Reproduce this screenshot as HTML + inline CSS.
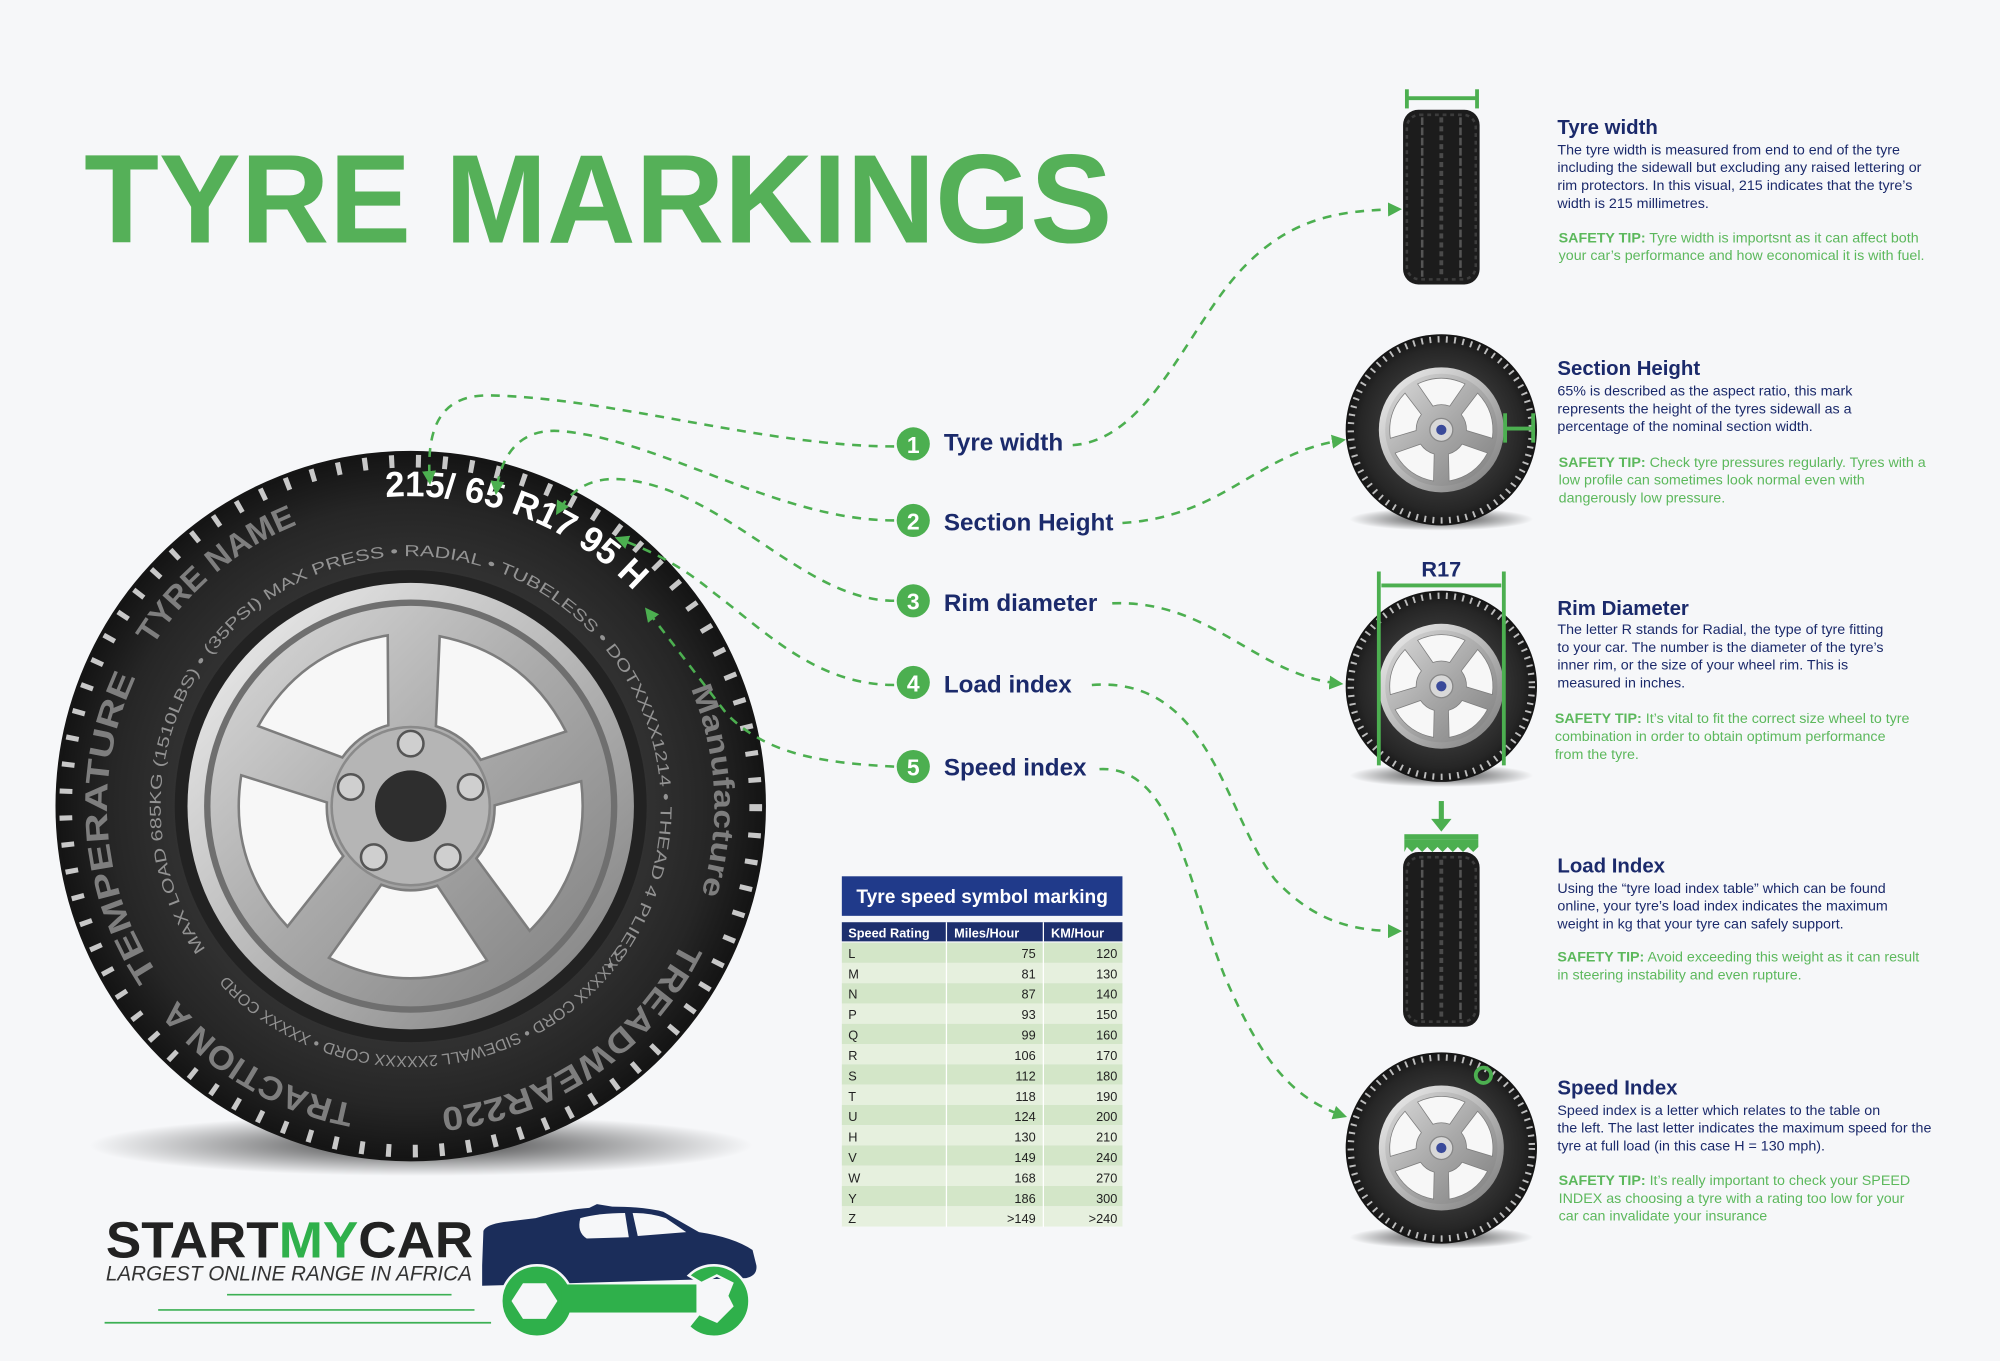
<!DOCTYPE html>
<html><head><meta charset="utf-8"><style>
html,body{margin:0;padding:0;background:#f6f7f9;}
svg{display:block}
text{font-family:"Liberation Sans",sans-serif}
</style></head><body>
<svg width="2000" height="1361" viewBox="0 0 1568 1067" preserveAspectRatio="none" xmlns="http://www.w3.org/2000/svg">
<defs>
<marker id="ar" viewBox="0 0 10 10" refX="8" refY="5" markerWidth="5.5" markerHeight="5.5" orient="auto"><path d="M0,0 L10,5 L0,10 z" fill="#4caf50"/></marker>
<radialGradient id="tyreG" cx="50%" cy="50%" r="50%"><stop offset="0.6" stop-color="#353535"/><stop offset="0.85" stop-color="#262626"/><stop offset="1" stop-color="#141414"/></radialGradient>
<linearGradient id="rimG" x1="0" y1="0" x2="1" y2="1"><stop offset="0" stop-color="#f2f2f2"/><stop offset="0.5" stop-color="#b8b8b8"/><stop offset="1" stop-color="#7a7a7a"/></linearGradient>
<linearGradient id="faceG" x1="0" y1="0" x2="1" y2="1"><stop offset="0" stop-color="#dcdcdc"/><stop offset="0.5" stop-color="#a9a9a9"/><stop offset="1" stop-color="#7f7f7f"/></linearGradient>
<radialGradient id="shadowG" cx="50%" cy="50%" r="50%"><stop offset="0" stop-color="#000" stop-opacity="0.75"/><stop offset="1" stop-color="#000" stop-opacity="0"/></radialGradient>
<path id="c243" d="M565,632 A243,243 0 1 1 79,632 A243,243 0 1 1 565,632 A243,243 0 1 1 79,632 A243,243 0 1 1 565,632"/>
<path id="c238" d="M560,632 A238,238 0 1 1 84,632 A238,238 0 1 1 560,632 A238,238 0 1 1 84,632 A238,238 0 1 1 560,632"/>
<path id="c196" d="M518,632 A196,196 0 1 1 126,632 A196,196 0 1 1 518,632 A196,196 0 1 1 126,632 A196,196 0 1 1 518,632"/>
<g id="opening"><path d="M-22,-62 Q0,-70 22,-62 L62,-120 Q0,-150 -62,-120 Z" fill="#f7f7f7" stroke="#7d7d7d" stroke-width="2"/></g>
<g id="wheel">
  <ellipse cx="0" cy="70" rx="72" ry="9" fill="url(#shadowG)"/>
  <circle r="75" fill="url(#tyreG)"/>
  <circle r="71" fill="none" stroke="#bdbdbd" stroke-width="5" stroke-dasharray="1.5 5"/>
  <circle r="49" fill="url(#rimG)"/>
  <circle r="44" fill="url(#faceG)"/>
  <g transform="scale(0.3)"><use href="#opening" transform="rotate(0)"/><use href="#opening" transform="rotate(72)"/><use href="#opening" transform="rotate(144)"/><use href="#opening" transform="rotate(216)"/><use href="#opening" transform="rotate(288)"/></g>
  <circle r="9" fill="#d8d8d8" stroke="#888"/>
  <circle r="4" fill="#3a4a9a"/>
</g>
<g id="front">
  <rect x="0" y="0" width="60" height="137" rx="12" fill="#1c1c1c"/>
  <rect x="3" y="4" width="54" height="129" rx="10" fill="none" stroke="#3c3c3c" stroke-width="2" stroke-dasharray="3 3"/>
  <line x1="15" y1="6" x2="15" y2="131" stroke="#555" stroke-width="2" stroke-dasharray="6 2"/>
  <line x1="30" y1="6" x2="30" y2="131" stroke="#4a4a4a" stroke-width="3" stroke-dasharray="4 3"/>
  <line x1="45" y1="6" x2="45" y2="131" stroke="#555" stroke-width="2" stroke-dasharray="6 2"/>
</g>
</defs>

<rect width="1568" height="1067" fill="#f6f7f9"/>

<text x="66" y="190" font-size="99" font-weight="bold" fill="#55b058" textLength="806" lengthAdjust="spacingAndGlyphs">TYRE MARKINGS</text>

<!-- big tyre -->
<ellipse cx="330" cy="898" rx="260" ry="24" fill="url(#shadowG)"/>
<circle cx="322" cy="632" r="277" fill="url(#tyreG)"/>
<circle cx="322" cy="632" r="271" fill="none" stroke="#c8c8c8" stroke-width="11" stroke-dasharray="4 17"/>
<circle cx="322" cy="632" r="277" fill="none" stroke="#151515" stroke-width="3"/>
<circle cx="322" cy="632" r="185" fill="#222"/>
<circle cx="322" cy="632" r="175" fill="url(#rimG)"/>
<circle cx="322" cy="632" r="162" fill="#6f6f6f"/>
<circle cx="322" cy="632" r="157" fill="url(#faceG)"/>
<g transform="translate(322,632)">
  <use href="#opening" transform="rotate(-35)"/>
  <use href="#opening" transform="rotate(37)"/>
  <use href="#opening" transform="rotate(109)"/>
  <use href="#opening" transform="rotate(181)"/>
  <use href="#opening" transform="rotate(253)"/>
</g>
<circle cx="322" cy="632" r="62" fill="#b5b5b5" stroke="#8a8a8a" stroke-width="2"/>
<circle cx="322" cy="632" r="28" fill="#2e2e2e"/>
<g fill="#cfcfcf" stroke="#555" stroke-width="2">
<circle cx="322" cy="583" r="10"/><circle cx="369" cy="617" r="10"/><circle cx="351" cy="672" r="10"/><circle cx="293" cy="672" r="10"/><circle cx="275" cy="617" r="10"/>
</g>

<text font-size="28" font-weight="bold" fill="#fff"><textPath href="#c243" startOffset="1125" textLength="215" lengthAdjust="spacingAndGlyphs">215/ 65 R17  95 H</textPath></text>
<text font-size="25" font-weight="bold" fill="#7e7e7e"><textPath href="#c238" startOffset="880" textLength="150" lengthAdjust="spacingAndGlyphs">TYRE NAME</textPath></text>
<text font-size="25" font-weight="bold" fill="#7e7e7e"><textPath href="#c238" startOffset="607" textLength="245" lengthAdjust="spacingAndGlyphs">TEMPERATURE</textPath></text>
<text font-size="23" font-weight="bold" fill="#7e7e7e"><textPath href="#c238" startOffset="1400" textLength="165" lengthAdjust="spacingAndGlyphs">Manufacture</textPath></text>
<text font-size="26" font-weight="bold" fill="#7e7e7e"><textPath href="#c238" startOffset="110" textLength="240" lengthAdjust="spacingAndGlyphs">TREADWEAR220</textPath></text>
<text font-size="26" font-weight="bold" fill="#7e7e7e"><textPath href="#c238" startOffset="418" textLength="165" lengthAdjust="spacingAndGlyphs">TRACTION A</textPath></text>
<text font-size="12.5" fill="#939393"><textPath href="#c196" startOffset="496" textLength="870" lengthAdjust="spacingAndGlyphs">MAX LOAD 685KG (1510LBS)  •  (35PSI) MAX PRESS  •  RADIAL  •  TUBELESS  •  DOTXXXX1214  •  THEAD 4 PLIES  •</textPath></text>
<text font-size="12.5" fill="#939393"><textPath href="#c196" startOffset="120" textLength="350" lengthAdjust="spacingAndGlyphs">2XXXXX CORD  •  SIDEWALL 2XXXXX CORD  •  XXXXX CORD</textPath></text>

<!-- left connectors -->
<g fill="none" stroke="#4caf50" stroke-width="2" stroke-dasharray="7 6">
<path d="M701,350 C600,350 480,312 385,310 C345,309 334,335 337,378" marker-end="url(#ar)"/>
<path d="M701,408 C610,408 520,345 440,338 C405,335 392,360 389,386" marker-end="url(#ar)"/>
<path d="M701,471 C630,471 570,385 490,376 C462,373 447,385 437,402" marker-end="url(#ar)"/>
<path d="M701,537 C640,537 600,495 560,465 C530,440 505,430 484,422" marker-end="url(#ar)"/>
<path d="M701,601 C640,598 600,590 570,560 L507,478" marker-end="url(#ar)"/>
</g>
<g fill="none" stroke="#4caf50" stroke-width="2" stroke-dasharray="7 6">
<path d="M841,349 C900,345 930,260 970,215 C1010,170 1050,165 1097,164" marker-end="url(#ar)"/>
<path d="M880,410 C960,405 985,355 1053,345" marker-end="url(#ar)"/>
<path d="M872,473 C950,470 985,530 1051,536" marker-end="url(#ar)"/>
<path d="M856,537 C950,530 960,640 1000,690 C1030,722 1060,730 1097,730" marker-end="url(#ar)"/>
<path d="M862,603 C920,600 930,690 960,765 C990,835 1015,862 1054,875" marker-end="url(#ar)"/>
</g>

<g font-weight="bold">
<circle cx="716" cy="348" r="13" fill="#4caf50"/><text x="716" y="355" font-size="18" fill="#fff" text-anchor="middle">1</text>
<text x="740" y="353" font-size="19" fill="#1b2a6b">Tyre width</text>
<circle cx="716" cy="408" r="13" fill="#4caf50"/><text x="716" y="415" font-size="18" fill="#fff" text-anchor="middle">2</text>
<text x="740" y="416" font-size="19" fill="#1b2a6b">Section Height</text>
<circle cx="716" cy="471" r="13" fill="#4caf50"/><text x="716" y="478" font-size="18" fill="#fff" text-anchor="middle">3</text>
<text x="740" y="479" font-size="19" fill="#1b2a6b">Rim diameter</text>
<circle cx="716" cy="535" r="13" fill="#4caf50"/><text x="716" y="542" font-size="18" fill="#fff" text-anchor="middle">4</text>
<text x="740" y="543" font-size="19" fill="#1b2a6b">Load index</text>
<circle cx="716" cy="601" r="13" fill="#4caf50"/><text x="716" y="608" font-size="18" fill="#fff" text-anchor="middle">5</text>
<text x="740" y="608" font-size="19" fill="#1b2a6b">Speed index</text>
</g>

<line x1="1103" y1="77" x2="1158" y2="77" stroke="#4caf50" stroke-width="3"/>
<line x1="1103" y1="70" x2="1103" y2="85" stroke="#4caf50" stroke-width="3"/>
<line x1="1158" y1="70" x2="1158" y2="85" stroke="#4caf50" stroke-width="3"/>
<use href="#front" x="1100" y="86"/>

<use href="#wheel" x="1130" y="337"/>
<line x1="1180" y1="336" x2="1202" y2="336" stroke="#4caf50" stroke-width="3"/>
<line x1="1180" y1="324" x2="1180" y2="347" stroke="#4caf50" stroke-width="3"/>
<line x1="1202" y1="324" x2="1202" y2="347" stroke="#4caf50" stroke-width="3"/>

<use href="#wheel" x="1130" y="538"/>
<text x="1130" y="452" font-size="17" font-weight="bold" fill="#1b2a6b" text-anchor="middle">R17</text>
<g stroke="#4caf50" stroke-width="3">
<line x1="1083" y1="459" x2="1177" y2="459"/>
<line x1="1081" y1="448" x2="1081" y2="600"/>
<line x1="1179" y1="448" x2="1179" y2="600"/>
</g>

<g fill="#4caf50">
<rect x="1128" y="628" width="4" height="18"/>
<path d="M1122,642 L1138,642 L1130,652 Z"/>
<rect x="1101" y="654" width="58" height="4"/>
<path d="M1101,658 L1159,658 L1159,664 L1155,668 L1151,664 L1147,668 L1143,664 L1139,668 L1135,664 L1131,668 L1127,664 L1123,668 L1119,664 L1115,668 L1111,664 L1107,668 L1103,664 L1101,668 Z"/>
</g>
<use href="#front" x="1100" y="668"/>

<use href="#wheel" x="1130" y="900"/>
<circle cx="1163" cy="843" r="6" fill="none" stroke="#4caf50" stroke-width="3"/>

<g font-size="11.2" fill="#1b2a6b">
<text x="1221" y="105" font-size="16" font-weight="bold">Tyre width</text>
<text x="1221" y="121">The tyre width is measured from end to end of the tyre</text>
<text x="1221" y="135">including the sidewall but excluding any raised lettering or</text>
<text x="1221" y="149">rim protectors. In this visual, 215 indicates that the tyre’s</text>
<text x="1221" y="163">width is 215 millimetres.</text>
<text x="1222" y="190" fill="#5cb85c"><tspan font-weight="bold">SAFETY TIP:</tspan> Tyre width is importsnt as it can affect both</text>
<text x="1222" y="204" fill="#5cb85c">your car’s performance and how economical it is with fuel.</text>

<text x="1221" y="294" font-size="16" font-weight="bold">Section Height</text>
<text x="1221" y="310">65% is described as the aspect ratio, this mark</text>
<text x="1221" y="324">represents the height of the tyres sidewall as a</text>
<text x="1221" y="338">percentage of the nominal section width.</text>
<text x="1222" y="366" fill="#5cb85c"><tspan font-weight="bold">SAFETY TIP:</tspan> Check tyre pressures regularly. Tyres with a</text>
<text x="1222" y="380" fill="#5cb85c">low profile can sometimes look normal even with</text>
<text x="1222" y="394" fill="#5cb85c">dangerously low pressure.</text>

<text x="1221" y="482" font-size="16" font-weight="bold">Rim Diameter</text>
<text x="1221" y="497">The letter R stands for Radial, the type of tyre fitting</text>
<text x="1221" y="511">to your car. The number is the diameter of the tyre’s</text>
<text x="1221" y="525">inner rim, or the size of your wheel rim. This is</text>
<text x="1221" y="539">measured in inches.</text>
<text x="1219" y="567" fill="#5cb85c"><tspan font-weight="bold">SAFETY TIP:</tspan> It’s vital to fit the correct size wheel to tyre</text>
<text x="1219" y="581" fill="#5cb85c">combination in order to obtain optimum performance</text>
<text x="1219" y="595" fill="#5cb85c">from the tyre.</text>

<text x="1221" y="684" font-size="16" font-weight="bold">Load Index</text>
<text x="1221" y="700">Using the “tyre load index table” which can be found</text>
<text x="1221" y="714">online, your tyre’s load index indicates the maximum</text>
<text x="1221" y="728">weight in kg that your tyre can safely support.</text>
<text x="1221" y="754" fill="#5cb85c"><tspan font-weight="bold">SAFETY TIP:</tspan> Avoid exceeding this weight as it can result</text>
<text x="1221" y="768" fill="#5cb85c">in steering instability and even rupture.</text>

<text x="1221" y="858" font-size="16" font-weight="bold">Speed Index</text>
<text x="1221" y="874">Speed index is a letter which relates to the table on</text>
<text x="1221" y="888">the left. The last letter indicates the maximum speed for the</text>
<text x="1221" y="902">tyre at full load (in this case H = 130 mph).</text>
<text x="1222" y="929" fill="#5cb85c"><tspan font-weight="bold">SAFETY TIP:</tspan> It’s really important to check your SPEED</text>
<text x="1222" y="943" fill="#5cb85c">INDEX as choosing a tyre with a rating too low for your</text>
<text x="1222" y="957" fill="#5cb85c">car can invalidate your insurance</text>
</g>

<rect x="660" y="687" width="220" height="31" fill="#203a8a"/>
<text x="770" y="708" font-size="15" font-weight="bold" fill="#fff" text-anchor="middle">Tyre speed symbol marking</text>
<rect x="660" y="723" width="220" height="15" fill="#1d2f6e"/>
<g font-size="10" font-weight="bold" fill="#fff">
<text x="665" y="735">Speed Rating</text><text x="748" y="735">Miles/Hour</text><text x="824" y="735">KM/Hour</text>
</g>
<g font-size="10" fill="#222">
<rect x="660" y="739" width="220" height="15.9" fill="#d3e6c8"/><text x="665" y="751">L</text><text x="812" y="751" text-anchor="end">75</text><text x="876" y="751" text-anchor="end">120</text>
<rect x="660" y="754.9" width="220" height="15.9" fill="#e6f0de"/><text x="665" y="767">M</text><text x="812" y="767" text-anchor="end">81</text><text x="876" y="767" text-anchor="end">130</text>
<rect x="660" y="770.8" width="220" height="15.9" fill="#d3e6c8"/><text x="665" y="783">N</text><text x="812" y="783" text-anchor="end">87</text><text x="876" y="783" text-anchor="end">140</text>
<rect x="660" y="786.7" width="220" height="15.9" fill="#e6f0de"/><text x="665" y="799">P</text><text x="812" y="799" text-anchor="end">93</text><text x="876" y="799" text-anchor="end">150</text>
<rect x="660" y="802.6" width="220" height="15.9" fill="#d3e6c8"/><text x="665" y="815">Q</text><text x="812" y="815" text-anchor="end">99</text><text x="876" y="815" text-anchor="end">160</text>
<rect x="660" y="818.5" width="220" height="15.9" fill="#e6f0de"/><text x="665" y="831">R</text><text x="812" y="831" text-anchor="end">106</text><text x="876" y="831" text-anchor="end">170</text>
<rect x="660" y="834.4" width="220" height="15.9" fill="#d3e6c8"/><text x="665" y="847">S</text><text x="812" y="847" text-anchor="end">112</text><text x="876" y="847" text-anchor="end">180</text>
<rect x="660" y="850.3" width="220" height="15.9" fill="#e6f0de"/><text x="665" y="863">T</text><text x="812" y="863" text-anchor="end">118</text><text x="876" y="863" text-anchor="end">190</text>
<rect x="660" y="866.2" width="220" height="15.9" fill="#d3e6c8"/><text x="665" y="879">U</text><text x="812" y="879" text-anchor="end">124</text><text x="876" y="879" text-anchor="end">200</text>
<rect x="660" y="882.1" width="220" height="15.9" fill="#e6f0de"/><text x="665" y="895">H</text><text x="812" y="895" text-anchor="end">130</text><text x="876" y="895" text-anchor="end">210</text>
<rect x="660" y="898" width="220" height="15.9" fill="#d3e6c8"/><text x="665" y="911">V</text><text x="812" y="911" text-anchor="end">149</text><text x="876" y="911" text-anchor="end">240</text>
<rect x="660" y="913.9" width="220" height="15.9" fill="#e6f0de"/><text x="665" y="927">W</text><text x="812" y="927" text-anchor="end">168</text><text x="876" y="927" text-anchor="end">270</text>
<rect x="660" y="929.8" width="220" height="15.9" fill="#d3e6c8"/><text x="665" y="943">Y</text><text x="812" y="943" text-anchor="end">186</text><text x="876" y="943" text-anchor="end">300</text>
<rect x="660" y="945.7" width="220" height="15.9" fill="#e6f0de"/><text x="665" y="959">Z</text><text x="812" y="959" text-anchor="end">&gt;149</text><text x="876" y="959" text-anchor="end">&gt;240</text>
</g>
<g stroke="#fff" stroke-width="1"><line x1="742" y1="723" x2="742" y2="962"/><line x1="818" y1="723" x2="818" y2="962"/></g>

<text x="83" y="986" font-size="40" font-weight="bold" fill="#222" textLength="288" lengthAdjust="spacingAndGlyphs">START<tspan fill="#2fb04b">MY</tspan>CAR</text>
<text x="83" y="1004" font-size="16.5" font-style="italic" fill="#333" textLength="287" lengthAdjust="spacingAndGlyphs">LARGEST ONLINE RANGE IN AFRICA</text>
<g stroke="#3cb054" stroke-width="1.3">
<line x1="178" y1="1015" x2="354" y2="1015"/>
<line x1="124" y1="1027" x2="372" y2="1027"/>
<line x1="82" y1="1037" x2="385" y2="1037"/>
</g>
<path d="M378,992 L379,965 Q381,960 395,958 L420,955 Q445,948 462,947 L468,944 L480,946 Q505,946 520,950 L548,966 Q575,970 590,980 L593,992 Q594,1000 585,1002 L378,1008 Z" fill="#1b2d5a"/>
<path d="M455,955 Q470,951 490,951 L493,970 L460,971 Q452,966 455,955 Z" fill="#f6f7f9"/>
<path d="M496,951 Q510,951 522,955 L538,966 L500,969 Z" fill="#f6f7f9"/>
<g fill="#2fb04b" stroke="#f6f7f9" stroke-width="2">
<circle cx="421" cy="1020" r="28"/>
<path d="M540,1000 A28,28 0 1 1 540,1040 L548,1030 L562,1036 L574,1024 L570,1016 L574,1006 L562,1000 L550,1006 Z"/>
</g>
<rect x="440" y="1007" width="106" height="22" fill="#2fb04b"/>
<path d="M410,1006 L428,1006 L437,1020 L428,1034 L410,1034 L401,1020 Z" fill="#f6f7f9"/>
</svg>
</body></html>
